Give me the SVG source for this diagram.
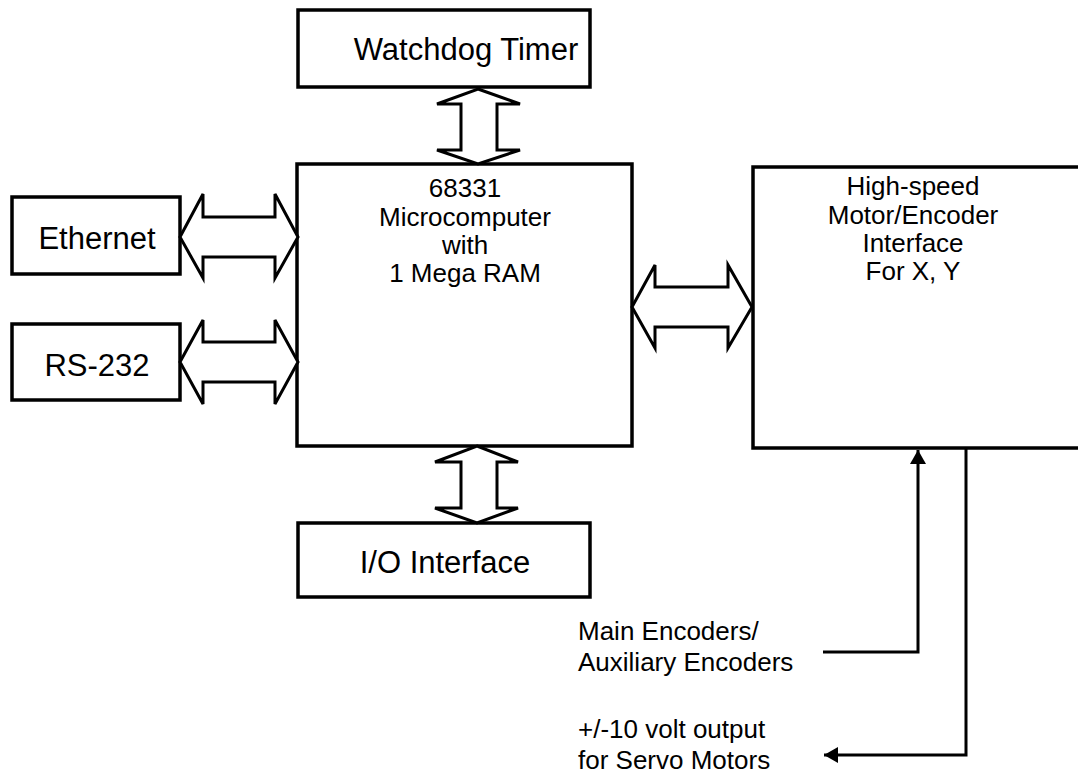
<svg xmlns="http://www.w3.org/2000/svg" width="1078" height="784" viewBox="0 0 1078 784">
<defs>
<style>
.box{fill:#fff;stroke:#000;stroke-width:3.5}
.dbl{fill:#fff;stroke:#000;stroke-width:3;stroke-linejoin:miter}
.ln{fill:none;stroke:#000;stroke-width:3}
text{font-family:"Liberation Sans",Arial,sans-serif;fill:#000;text-anchor:middle}
.big{font-size:31px}
.mid{font-size:26px}
.lbl{font-size:26px;text-anchor:start}
</style>
<marker id="tri" viewBox="0 0 14 16" refX="14" refY="8" markerWidth="14" markerHeight="16" markerUnits="userSpaceOnUse" orient="auto">
<path d="M0,0 L14,8 L0,16 z" fill="#000"/>
</marker>
</defs>
<rect width="1078" height="784" fill="#fff"/>
<g id="watchdog"><rect class="box" x="298" y="10" width="292" height="77"/><text class="big" x="466" y="60">Watchdog Timer</text></g>
<g id="ethernet"><rect class="box" x="12" y="197" width="168" height="77"/><text class="big" x="97" y="249">Ethernet</text></g>
<g id="rs232"><rect class="box" x="12" y="324" width="168" height="76"/><text class="big" x="97" y="376">RS-232</text></g>
<g id="micro"><rect class="box" x="297" y="164" width="335" height="282"/>
<text class="mid" x="465" y="197">68331</text><text class="mid" x="465" y="226">Microcomputer</text><text class="mid" x="465" y="254">with</text><text class="mid" x="465" y="282">1 Mega RAM</text></g>
<g id="io"><rect class="box" x="298" y="523" width="292" height="74"/><text class="big" x="445" y="573">I/O Interface</text></g>
<g id="hs"><rect class="box" x="753" y="167" width="330" height="281"/>
<text class="mid" x="913" y="195">High-speed</text><text class="mid" x="913" y="224">Motor/Encoder</text><text class="mid" x="913" y="252">Interface</text><text class="mid" x="913" y="280">For X, Y</text></g>
<g id="connectors">
<polygon class="dbl" points="478,89 520,104 497,104 497,150 520,150 478,164 437,150 461,150 461,104 437,104"/>
<polygon class="dbl" points="477,446 518,462 497,462 497,508 518,508 477,523 435,508 461,508 461,462 435,462"/>
<polygon class="dbl" points="180,237 203,194 203,217 275,217 275,194 298,237 275,278 275,257 203,257 203,278"/>
<polygon class="dbl" points="180,362 203,320 203,342 275,342 275,320 298,362 275,404 275,382 203,382 203,404"/>
<polygon class="dbl" points="632,307 655,265 655,287 728,287 728,265 752,307 728,348 728,327 655,327 655,348"/>
<polyline class="ln" points="823,652 918,652 918,450" marker-end="url(#tri)"/>
<polyline class="ln" points="966,448 966,755 824,755" marker-end="url(#tri)"/>
</g>
<g id="labels">
<text class="lbl" x="578" y="640">Main Encoders/</text>
<text class="lbl" x="578" y="671">Auxiliary Encoders</text>
<text class="lbl" x="578" y="738">+/-10 volt output</text>
<text class="lbl" x="578" y="769">for Servo Motors</text>
</g>
</svg>
